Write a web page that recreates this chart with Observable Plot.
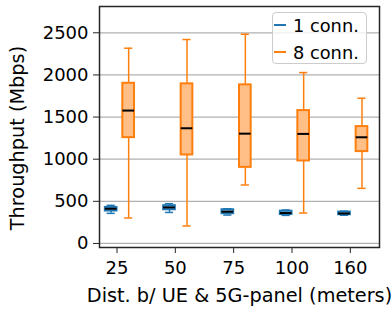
<!DOCTYPE html>
<html><head><meta charset="utf-8">
<script src="https://cdn.jsdelivr.net/npm/d3@7"></script>
<script src="https://cdn.jsdelivr.net/npm/@observablehq/plot@0.6"></script>
<style>
body{margin:0;background:#fff;font-family:"DejaVu Sans",sans-serif;}
#wrap{position:relative;width:391px;height:310px;}
.legend{position:absolute;left:272px;top:12px;width:95px;height:52px;border:1px solid #cccccc;border-radius:4px;background:rgba(255,255,255,0.8);box-sizing:border-box;font-size:17.8px;color:#000;}
.item{position:absolute;left:0;height:22px;display:flex;align-items:center;white-space:nowrap;}
.sw{display:inline-block;width:12px;height:2.5px;margin-left:1px;margin-right:7px;}
</style></head><body><div id="wrap"></div>
<script>
const labels = ["25", "50", "75", "100", "160"];
const yTicks = [0, 500, 1000, 1500, 2000, 2500];
const seriesNames = ["1 conn.", "8 conn."];
// 1 connection
const oneMin = [357, 368, 337, 333, 335];
const oneQ1  = [385, 400, 353, 343, 341];
const oneMed = [412, 428, 377, 361, 356];
const oneQ3  = [428, 448, 400, 383, 373];
const oneMax = [452, 472, 412, 397, 383];
// 8 connections
const eightMin = [302, 207, 694, 361, 654];
const eightQ1  = [1256, 1050, 903, 979, 1090];
const eightMed = [1577, 1367, 1303, 1300, 1260];
const eightQ3  = [1901, 1894, 1882, 1577, 1387];
const eightMax = [2317, 2420, 2483, 2028, 1723];
const xLabel = "Dist. b/ UE & 5G-panel (meters)";
const yLabel = "Throughput (Mbps)";

const series = [
  {name: seriesNames[0], stroke: "#1f77b4", fill: "#8fbbd9", offset: -0.1, min: oneMin, q1: oneQ1, med: oneMed, q3: oneQ3, max: oneMax},
  {name: seriesNames[1], stroke: "#ff7f0e", fill: "#ffbf86", offset: 0.2, min: eightMin, q1: eightQ1, med: eightMed, q3: eightQ3, max: eightMax}
];
const hw = 0.1, cw = 0.07;
const marks = [Plot.gridY(yTicks, {stroke: "#b0b0b0", strokeOpacity: 1, strokeWidth: 1.3})];
for (const s of series) {
  const rows = labels.map((l, i) => ({pos: i + s.offset, min: s.min[i], q1: s.q1[i], med: s.med[i], q3: s.q3[i], max: s.max[i]}));
  marks.push(
    Plot.ruleX(rows, {x: "pos", y1: "q3", y2: "max", stroke: s.stroke, strokeWidth: 1.5}),
    Plot.ruleX(rows, {x: "pos", y1: "min", y2: "q1", stroke: s.stroke, strokeWidth: 1.5}),
    Plot.ruleY(rows, {y: "max", x1: d => d.pos - cw, x2: d => d.pos + cw, stroke: s.stroke, strokeWidth: 1.5}),
    Plot.ruleY(rows, {y: "min", x1: d => d.pos - cw, x2: d => d.pos + cw, stroke: s.stroke, strokeWidth: 1.5}),
    Plot.rect(rows, {x1: d => d.pos - hw, x2: d => d.pos + hw, y1: "q1", y2: "q3", fill: s.fill, stroke: s.stroke, strokeWidth: 2}),
    Plot.ruleY(rows, {y: "med", x1: d => d.pos - hw, x2: d => d.pos + hw, stroke: "black", strokeWidth: 2})
  );
}
marks.push(
  Plot.frame({stroke: "#262626", strokeWidth: 1.5}),
  Plot.axisY({ticks: yTicks, tickFormat: d => String(d), tickSize: 6, tickPadding: 5, fontSize: 18, label: null, stroke: "#262626", color: "#000"}),
  Plot.axisX({ticks: [0, 1, 2, 3, 4], tickFormat: i => labels[i], tickSize: 6, tickPadding: 8, fontSize: 18, label: null, stroke: "#262626", color: "#000"}),
  Plot.text([xLabel], {frameAnchor: "bottom", dy: 54, lineAnchor: "bottom", textAnchor: "middle", fontSize: 19.3, fill: "#000"}),
  Plot.text([yLabel], {frameAnchor: "left", rotate: -90, dx: -89, dy: 11, lineAnchor: "top", textAnchor: "middle", fontSize: 19.3, fill: "#000"})
);

const chart = Plot.plot({
  width: 391, height: 310,
  marginLeft: 99, marginRight: 12, marginTop: 6, marginBottom: 63,
  style: {fontFamily: "DejaVu Sans", background: "#fff", overflow: "visible"},
  x: {type: "linear", domain: [-0.3, 4.5]},
  y: {domain: [-48, 2812]},
  marks
});
const wrap = document.getElementById("wrap");
wrap.appendChild(chart);
const leg = document.createElement("div");
leg.className = "legend";
series.forEach((s, k) => {
  const it = document.createElement("div");
  it.className = "item";
  it.style.top = (1 + k * 27) + "px";
  const sw = document.createElement("span");
  sw.className = "sw"; sw.style.background = s.stroke;
  const tx = document.createElement("span");
  tx.textContent = s.name;
  it.appendChild(sw); it.appendChild(tx);
  leg.appendChild(it);
});
wrap.appendChild(leg);
</script></body></html>
